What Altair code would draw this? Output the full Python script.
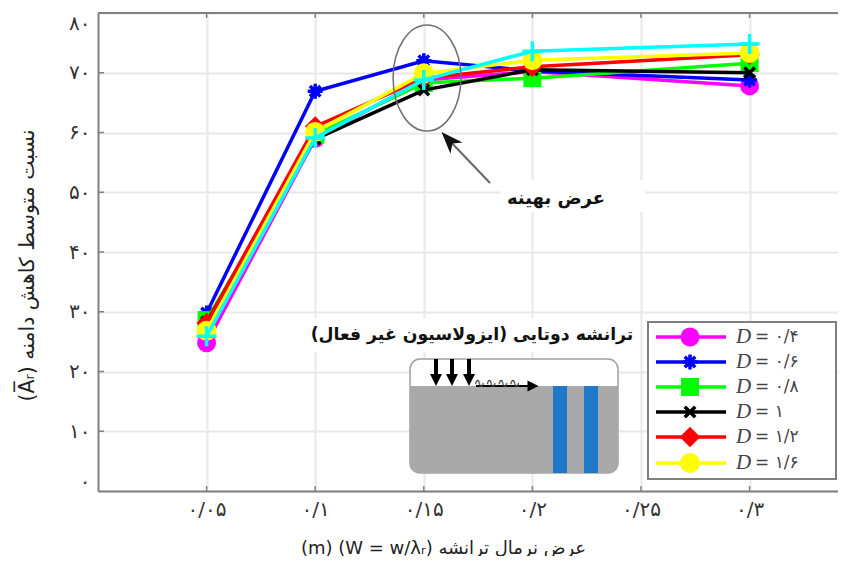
import altair as alt
import pandas as pd

# ---- data ----
widths = [0.05, 0.10, 0.15, 0.20, 0.30]
d04 = [24.8, 59.0, 68.8, 70.2, 67.8]
d06 = [29.8, 66.9, 72.0, 70.3, 68.8]
d08 = [28.6, 59.6, 68.3, 69.1, 71.6]
d10 = [28.3, 58.9, 67.1, 70.5, 70.0]
d12 = [28.1, 61.0, 69.1, 71.0, 73.0]
d16 = [26.8, 60.1, 69.9, 72.1, 73.3]
dxx = [25.9, 59.1, 68.8, 73.6, 74.8]

series_names = ["= ۰/۴", "= ۰/۶", "= ۰/۸", "= ۱", "= ۱/۲", "= ۱/۶", "extra"]
series_vals = [d04, d06, d08, d10, d12, d16, dxx]
series_cols = ["#ff00ff", "#0000ff", "#00ff00", "#000000", "#ff0000", "#ffff00", "#00ffff"]
CIRCLE = "circle"
STAR = "M-1,0H1M0,-1V1M-0.7,-0.7L0.7,0.7M-0.7,0.7L0.7,-0.7"
CROSS = "M-1,-1L1,1M-1,1L1,-1"
PLUS = "M-1,0H1M0,-1V1"
series_shape = [CIRCLE, STAR, "square", CROSS, "diamond", CIRCLE, PLUS]
series_size = [361, 225, 324, 110, 420, 400, 400]
series_filled = [True, False, True, False, True, True, False]

x_ticks = [0.05, 0.10, 0.15, 0.20, 0.25, 0.30]
x_labels = ["۰/۰۵", "۰/۱", "۰/۱۵", "۰/۲", "۰/۲۵", "۰/۳"]
y_ticks = [0, 10, 20, 30, 40, 50, 60, 70, 80]
y_labels = ["۰", "۱۰", "۲۰", "۳۰", "۴۰", "۵۰", "۶۰", "۷۰", "۸۰"]

FONT = "DejaVu Sans"
PLOT_W = 740
XMAX = PLOT_W / 2172
GRAY = "#808080"


def X(px):
    return (px - 98) / 2172


def Y(py):
    return (491 - py) / 5.975


xs = alt.Scale(domain=[0, XMAX], nice=False, zero=False)
ys = alt.Scale(domain=[0, 80], nice=False, zero=False)

xmap = "{" + ",".join(f"'{v:.2f}':'{l}'" for v, l in zip(x_ticks, x_labels)) + "}[datum.label]"
ymap = "{" + ",".join(f"'{v}':'{l}'" for v, l in zip(y_ticks, y_labels)) + "}[datum.label]"

x_axis = alt.Axis(
    values=x_ticks, format=".2f", labelExpr=xmap, ticks=False, grid=True,
    gridColor="#e8e8e8", gridWidth=2, domainColor=GRAY, domainWidth=2,
    labelFont=FONT, labelFontSize=20, labelColor="#333333", labelPadding=8,
    title="(m) (W = w/λᵣ) عرض نرمال ترانشه", titleFont=FONT, titleFontSize=18,
    titleFontWeight="normal", titleColor="#222222", titleX=345, titleY=57,
    titleBaseline="middle", titleAnchor="middle")
y_axis = alt.Axis(
    values=y_ticks, format="d", labelExpr=ymap, ticks=False, grid=True, labelFlush=True,
    gridColor="#e8e8e8", gridWidth=2, domainColor=GRAY, domainWidth=2,
    labelFont=FONT, labelFontSize=20, labelColor="#333333", labelPadding=8,
    title="(A̅ᵣ) نسبت متوسط کاهش دامنه", titleFont=FONT, titleFontSize=20.5,
    titleFontWeight="normal", titleColor="#222222", titleX=-71, titleY=252,
    titleBaseline="middle", titleAnchor="middle")

xe = alt.X("x:Q", scale=xs, axis=x_axis)
ye = alt.Y("y:Q", scale=ys, axis=y_axis)


def rect(x0, x1, y0, y1, **kw):
    d = pd.DataFrame([{"x": X(x0), "x2": X(x1), "y": Y(y0), "y2": Y(y1)}])
    return alt.Chart(d).mark_rect(**kw).encode(x=xe, x2="x2:Q", y=ye, y2="y2:Q")


def rule(x0, y0, x1, y1, **kw):
    d = pd.DataFrame([{"x": X(x0), "x2": X(x1), "y": Y(y0), "y2": Y(y1)}])
    return alt.Chart(d).mark_rule(**kw).encode(x=xe, x2="x2:Q", y=ye, y2="y2:Q")


def pt(px, py, **kw):
    d = pd.DataFrame([{"x": X(px), "y": Y(py)}])
    return alt.Chart(d).mark_point(**kw).encode(x=xe, y=ye)


def txt(px, py, s, font=FONT, **kw):
    d = pd.DataFrame([{"x": X(px), "y": Y(py), "t": s}])
    return alt.Chart(d).mark_text(font=font, **kw).encode(x=xe, y=ye, text="t:N")


layers = []

# masks hiding the grid beneath the annotations
layers.append(rect(500, 645, 180, 212, color="white"))
layers.append(rect(305, 640, 318, 352, color="white"))

# frame top and inward ticks
layers.append(rule(98, 13, 98 + PLOT_W, 13, color=GRAY, strokeWidth=2))
for v in x_ticks:
    px = 98 + v * 2172
    layers.append(rule(px, 491, px, 486, color=GRAY, strokeWidth=1.5))
    layers.append(rule(px, 13, px, 18, color=GRAY, strokeWidth=1.5))
for v in y_ticks[1:-1]:
    py = 491 - v * 5.975
    layers.append(rule(98, py, 104, py, color=GRAY, strokeWidth=1.5))

# series, each painted whole in turn
for vals, col, shp, sz, fl in zip(series_vals, series_cols, series_shape, series_size, series_filled):
    df = pd.DataFrame({"x": widths, "y": vals})
    layers.append(alt.Chart(df).mark_line(color=col, strokeWidth=3.5).encode(x=xe, y=ye))
    layers.append(alt.Chart(df).mark_point(shape=shp, size=sz, opacity=1, filled=fl, color=col,
                                           strokeWidth=0 if fl else 3.5).encode(x=xe, y=ye))

# ellipse and arrow
ELL = "M-0.64,0A0.64,1 0 1 1 0.64,0A0.64,1 0 1 1 -0.64,0Z"
layers.append(pt(427, 78, shape=ELL, size=106 ** 2, color="#707070", strokeWidth=1.5, opacity=1, filled=False))
layers.append(rule(490, 183, 447, 138, color="#666666", strokeWidth=2))
HEAD = "M0,-1L0.75,1L0,0.45L-0.75,1Z"
layers.append(pt(449, 140, shape=HEAD, size=22 ** 2, color="#111111", filled=True, opacity=1, angle=317, strokeWidth=0))
layers.append(txt(556, 199, "عرض بهینه", fontSize=18, fontWeight="bold", color="#111111"))
layers.append(txt(472, 335, "ترانشه دوتایی (ایزولاسیون غیر فعال)\u200F", fontSize=17.3, fontWeight="bold", color="#111111"))

# inset sketch
layers.append(rect(410, 618, 359, 473, color="white", stroke="#a0a0a0", strokeWidth=1.5, cornerRadius=10))
layers.append(rect(410, 618, 386, 473, color="#a9a9a9", cornerRadiusBottomLeft=10, cornerRadiusBottomRight=10))
layers.append(rect(553, 567, 386, 473, color="#1f78c8"))
layers.append(rect(584, 598, 386, 473, color="#1f78c8"))
TRI = "M-1,-1L1,-1L0,1Z"
for ax in [436, 452, 469]:
    layers.append(rule(ax, 359, ax, 376, color="#000000", strokeWidth=4))
    layers.append(pt(ax, 380, shape=TRI, size=12 ** 2, color="#000000", filled=True, opacity=1, strokeWidth=0))
layers.append(rule(476, 386, 530, 386, color="#000000", strokeWidth=2))
layers.append(pt(533, 386, shape="M-1,-1L1,0L-1,1Z", size=11 ** 2, color="#000000", filled=True, opacity=1, strokeWidth=0))
layers.append(txt(497, 384, "∿∿∿∿", fontSize=14, color="#444444"))

# legend box
layers.append(rect(648, 836, 322, 479, color="white", stroke=GRAY, strokeWidth=2))
legend_y = [337, 362, 387, 412, 437, 463]
for i, ly in enumerate(legend_y):
    col = series_cols[i]
    layers.append(rule(656, ly, 726, ly, color=col, strokeWidth=3.5))
    layers.append(pt(690, ly, shape=series_shape[i], size=series_size[i], color=col, opacity=1,
                     filled=series_filled[i], strokeWidth=0 if series_filled[i] else 3.5))
    layers.append(txt(736, ly, "D", font="Liberation Serif", fontSize=21, fontStyle="italic", align="left", color="#444444"))
    layers.append(txt(755, ly, series_names[i], fontSize=17, align="left", color="#444444"))

chart = alt.layer(*layers).properties(
    width=PLOT_W, height=478,
    padding={"left": 90, "top": 5, "right": 0, "bottom": 65},
    autosize=alt.AutoSizeParams(type="none"),
).configure_view(stroke=None)

chart.save("out.html", embed_options={"renderer": "svg", "actions": False})
